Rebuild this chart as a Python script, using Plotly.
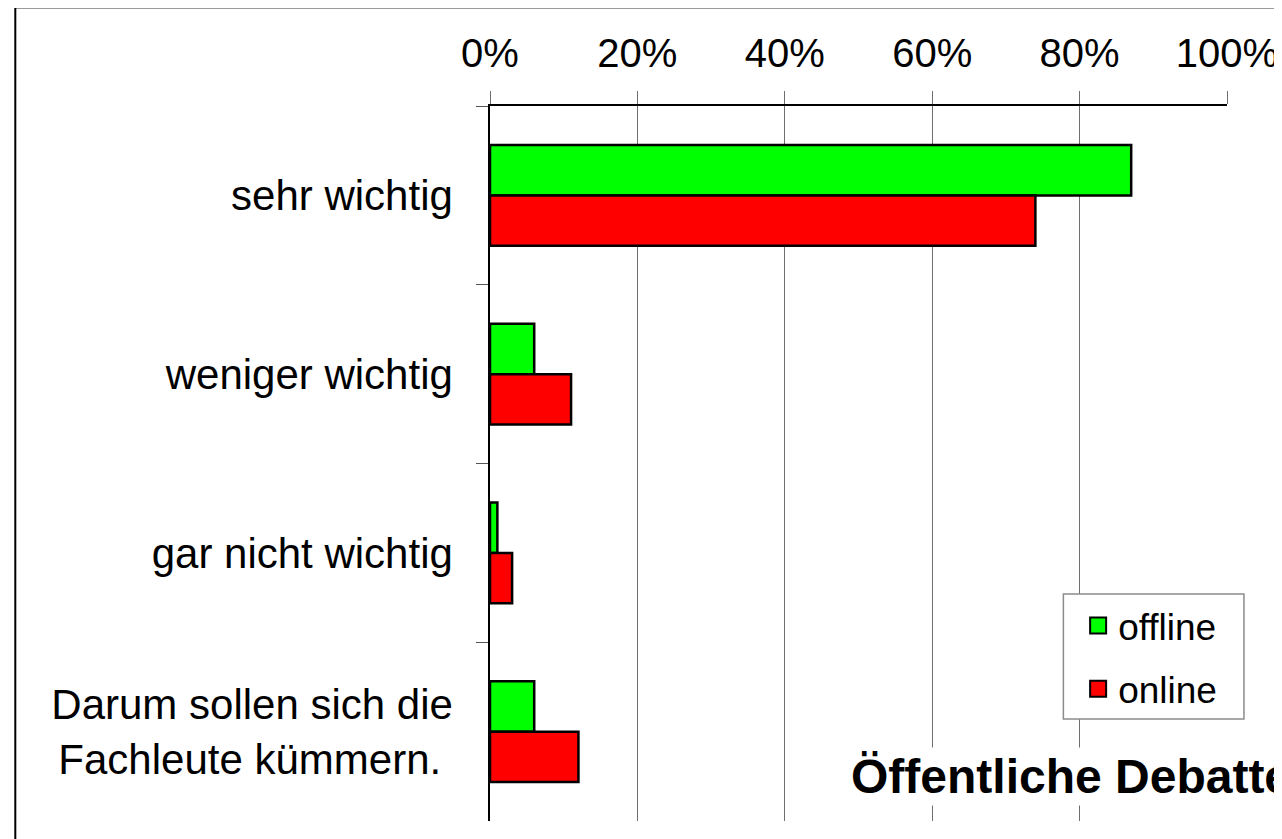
import plotly.graph_objects as go

# ---- data ----
categories = [
    "sehr wichtig",
    "weniger wichtig",
    "gar nicht wichtig",
    "Darum sollen sich die<br>Fachleute kümmern.\u00a0",
]
offline = [87, 6, 1, 6]
online = [74, 11, 3, 12]
series_names = ["offline", "online"]
series_colors = ["#00FF00", "#FF0000"]
x_ticks = [0, 20, 40, 60, 80, 100]
x_tick_labels = ["0%", "20%", "40%", "60%", "80%", "100%"]
title_text = "Öffentliche Debatte"

FONT = "Liberation Sans, Arial, sans-serif"

fig = go.Figure()
for name, vals, col in zip(series_names, [offline, online], series_colors):
    fig.add_trace(go.Bar(
        y=categories, x=vals, orientation="h", name=name,
        marker=dict(color=col, line=dict(color="black", width=2.5)),
        showlegend=False,
    ))
# legend entries (square swatches)
for i, (name, col) in enumerate(zip(series_names, series_colors)):
    fig.add_trace(go.Scatter(
        x=[None], y=[None], mode="markers", name=name,
        legendgroup=f"g{i}",
        marker=dict(symbol="square", size=20, color=col,
                    line=dict(color="black", width=2)),
    ))

# the page body has an 8px default margin: offset margins to compensate
fig.update_layout(
    width=1282, height=839,
    margin=dict(l=482, r=61, t=98, b=26),
    paper_bgcolor="white", plot_bgcolor="white",
    barmode="group", bargap=0.435, bargroupgap=0,
    font=dict(family=FONT, color="black"),
    legend=dict(
        x=0.798, y=0.316, xanchor="left", yanchor="top",
        bgcolor="rgba(0,0,0,0)", borderwidth=0,
        font=dict(size=37, family=FONT, color="black"),
        tracegroupgap=12, itemsizing="trace",
    ),
    xaxis=dict(
        range=[0, 100], side="top", tickmode="array",
        tickvals=x_ticks, ticktext=x_tick_labels,
        showgrid=True, gridcolor="#6e6e6e", gridwidth=1,
        ticks="outside", ticklen=13, tickcolor="#6e6e6e", tickwidth=1,
        showline=True, linecolor="black", linewidth=1.5,
        zeroline=False, tickfont=dict(size=40, family=FONT, color="black"),
        ticklabelstandoff=8,
    ),
    yaxis=dict(
        autorange="reversed", categoryorder="array", categoryarray=categories,
        tickson="boundaries", ticks="outside", ticklen=12,
        tickcolor="#555555", tickwidth=1,
        showline=True, linecolor="black", linewidth=1.5,
        showgrid=False, zeroline=False,
        tickfont=dict(size=42, family=FONT, color="black"),
        ticklabelstandoff=27,
    ),
    shapes=[
        # legend box
        dict(type="rect", xref="paper", yref="paper",
             x0=0.778, x1=1.023, y0=0.1427, y1=0.3175,
             line=dict(color="#8c8c8c", width=1.5), fillcolor="white",
             layer="above"),
        # outer frame (top & left)
        dict(type="line", xref="paper", yref="paper",
             x0=-0.6441, x1=1.1, y0=1.1371, y1=1.1371,
             line=dict(color="#9a9a9a", width=2)),
        dict(type="line", xref="paper", yref="paper",
             x0=-0.6441, x1=-0.6441, y0=1.1371, y1=-0.05,
             line=dict(color="black", width=2)),
    ],
    annotations=[
        dict(text=f"<b>{title_text}</b>", xref="paper", yref="paper",
             x=0.4858, y=0.0629, xanchor="left", yanchor="middle",
             showarrow=False, bgcolor="white", borderpad=2,
             font=dict(size=48, family=FONT, color="black")),
    ],
)

fig.write_html("out.html")
